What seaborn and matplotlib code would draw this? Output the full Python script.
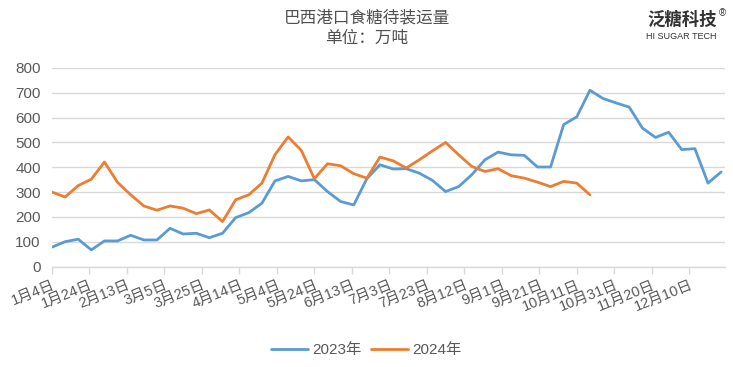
import numpy as np
import pandas as pd
import matplotlib
matplotlib.use("Agg")
import matplotlib.pyplot as plt
import seaborn as sns

# weekly values (万吨), first point on 1月4日
vals_2023 = [78, 100, 110, 67, 103, 103, 126, 107, 107, 154, 131, 134, 116, 134,
             197, 217, 255, 345, 363, 345, 350, 302, 262, 248, 354, 410, 393, 394,
             376, 347, 302, 322, 370, 430, 461, 450, 448, 401, 401, 572, 603, 710,
             677, 659, 642, 558, 520, 541, 471, 475, 336, 381]
vals_2024 = [300, 280, 326, 352, 421, 339, 289, 244, 227, 244, 235, 213, 228, 181,
             269, 289, 336, 451, 522, 468, 354, 414, 406, 374, 356, 441, 426, 397,
             430, 466, 500, 450, 403, 383, 394, 366, 356, 340, 322, 343, 336, 289]

tick_labels = ["1月4日", "1月24日", "2月13日", "3月5日", "3月25日", "4月14日",
               "5月4日", "5月24日", "6月13日", "7月3日", "7月23日", "8月12日",
               "9月1日", "9月21日", "10月11日", "10月31日", "11月20日", "12月10日"]

df = pd.concat([
    pd.DataFrame({"day": np.arange(len(vals_2023)) * 7, "value": vals_2023, "year": "2023年"}),
    pd.DataFrame({"day": np.arange(len(vals_2024)) * 7, "value": vals_2024, "year": "2024年"}),
])

sns.set_theme(style="white")
plt.rcParams["font.family"] = ["Liberation Sans", "Noto Sans CJK SC", "DejaVu Sans"]

fig = plt.figure(figsize=(7.33, 3.67), dpi=100)
ax = fig.add_axes([0.0709, 0.2738, 0.918, 0.541])

sns.lineplot(data=df, x="day", y="value", hue="year",
             palette={"2023年": "#5B9BD5", "2024年": "#ED7D31"},
             linewidth=2.0, ax=ax, legend=False)

ax.set_xlim(0, 359)
ax.set_ylim(0, 800)
ax.set_yticks(range(0, 801, 100))
ax.set_xticks(np.arange(len(tick_labels)) * 20)
ax.set_xticklabels(tick_labels, rotation=22, ha="right", rotation_mode="anchor",
                   fontsize=10.5, color="#595959")
ax.tick_params(axis="y", labelsize=11, labelcolor="#595959", length=0, pad=8)
ax.tick_params(axis="x", length=5, color="#d9d9d9", width=1, pad=3, bottom=True)
ax.grid(axis="y", color="#d9d9d9", linewidth=1)
ax.set_axisbelow(True)
ax.set_xlabel("")
ax.set_ylabel("")
for s in ["left", "right", "top"]:
    ax.spines[s].set_visible(False)
ax.spines["bottom"].set_color("#d9d9d9")
ax.spines["bottom"].set_linewidth(1)

# legend
from matplotlib.lines import Line2D
handles = [Line2D([], [], color="#5B9BD5", lw=2.0), Line2D([], [], color="#ED7D31", lw=2.0)]
fig.legend(handles, ["2023年", "2024年"], loc="center", bbox_to_anchor=(0.5, 0.045),
           ncol=2, frameon=False, fontsize=11, handlelength=2.4, handletextpad=0.3,
           columnspacing=0.6, labelcolor="#595959")

# titles
fig.text(0.5, 0.95, "巴西港口食糖待装运量", ha="center", va="center", fontsize=12,
         color="#505050", family=["Noto Sans CJK SC"])
fig.text(0.5, 0.895, "单位：万吨", ha="center", va="center", fontsize=12,
         color="#505050", family=["Noto Sans CJK SC"])

# logo
fig.text(0.93, 0.945, "泛糖科技", ha="center", va="center", fontsize=12.5,
         weight="bold", color="#333333", family=["Noto Sans CJK SC"])
fig.text(0.985, 0.965, "®", ha="center", va="center", fontsize=7, color="#333333")
fig.text(0.93, 0.9, "HI SUGAR TECH", ha="center", va="center", fontsize=6.5,
         color="#333333")

fig.savefig("out.png", dpi=100)
